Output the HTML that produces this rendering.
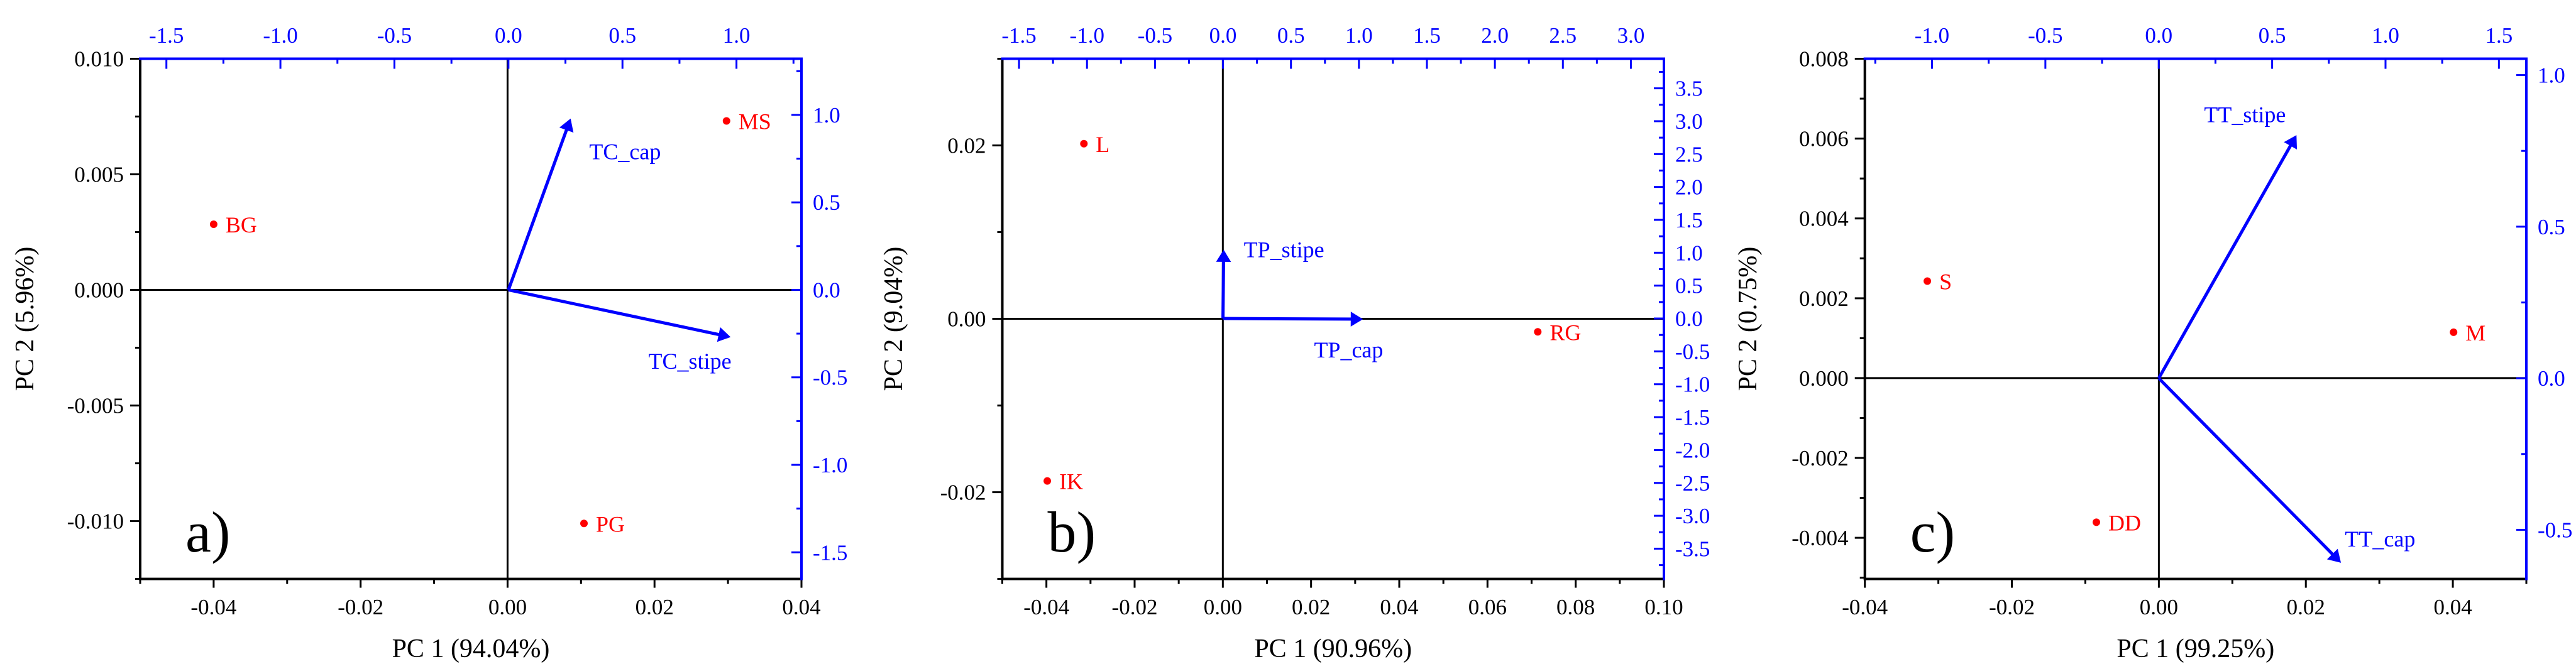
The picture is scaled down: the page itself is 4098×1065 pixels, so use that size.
<!DOCTYPE html>
<html><head><meta charset="utf-8"><style>
html,body{margin:0;padding:0;background:#fff;}
svg{display:block;}
text{font-family:"Liberation Serif","DejaVu Serif",serif;}
</style></head>
<body>
<svg id="chart" width="4098" height="1065" viewBox="0 0 4098 1065" xmlns="http://www.w3.org/2000/svg"></svg>
<script>
// ---- Panel a data ----
const aPointNames = ["BG","MS","PG"];
const aPointX = [-0.040, 0.0298, 0.0104];
const aPointY = [0.00284, 0.00731, -0.0101];
const aLoadNames = ["TC_cap","TC_stipe"];
const aLoadX = [0.269, 0.964];
const aLoadY = [0.966, -0.267];
const aBottomTicks = ["-0.04","-0.02","0.00","0.02","0.04"];
const aLeftTicks = ["-0.010","-0.005","0.000","0.005","0.010"];
const aTopTicks = ["-1.5","-1.0","-0.5","0.0","0.5","1.0"];
const aRightTicks = ["-1.5","-1.0","-0.5","0.0","0.5","1.0"];
// ---- Panel b data ----
const bPointNames = ["L","IK","RG"];
const bPointX = [-0.0315, -0.0398, 0.0714];
const bPointY = [0.0202, -0.0187, -0.0015];
const bLoadNames = ["TP_stipe","TP_cap"];
const bLoadX = [0.005, 1.012];
const bLoadY = [1.01, -0.01];
const bBottomTicks = ["-0.04","-0.02","0.00","0.02","0.04","0.06","0.08","0.10"];
const bLeftTicks = ["-0.02","0.00","0.02"];
const bTopTicks = ["-1.5","-1.0","-0.5","0.0","0.5","1.0","1.5","2.0","2.5","3.0"];
const bRightTicks = ["-3.5","-3.0","-2.5","-2.0","-1.5","-1.0","-0.5","0.0","0.5","1.0","1.5","2.0","2.5","3.0","3.5"];
// ---- Panel c data ----
const cPointNames = ["S","DD","M"];
const cPointX = [-0.0315, -0.0085, 0.0401];
const cPointY = [0.00243, -0.00361, 0.00115];
const cLoadNames = ["TT_stipe","TT_cap"];
const cLoadX = [0.602, 0.796];
const cLoadY = [0.795, -0.603];
const cBottomTicks = ["-0.04","-0.02","0.00","0.02","0.04"];
const cLeftTicks = ["-0.004","-0.002","0.000","0.002","0.004","0.006","0.008"];
const cTopTicks = ["-1.0","-0.5","0.0","0.5","1.0","1.5"];
const cRightTicks = ["-0.5","0.0","0.5","1.0"];

const NS="http://www.w3.org/2000/svg";
const svg=document.getElementById('chart');
function mk(tag,attrs,parent){const e=document.createElementNS(NS,tag);for(const k in attrs)e.setAttribute(k,attrs[k]);(parent||svg).appendChild(e);return e;}

const panels=[
 {id:'a',L:223,R:1275,T:93.5,B:921.6,xr:[-0.05,0.04],yr:[-0.0125,0.010],tr:[-1.615,1.285],rr:[-1.652,1.321],
  xStepMinor:0.01,yStepMinor:0.0025,tStepMinor:0.25,rStepMinor:0.25,
  names:aPointNames,px:aPointX,py:aPointY,ln:aLoadNames,lx:aLoadX,ly:aLoadY,
  bt:aBottomTicks,lt:aLeftTicks,tt:aTopTicks,rt:aRightTicks,
  lblOff:[[31,61],[-127,51]],xt:'PC 1 (94.04%)',yt:'PC 2 (5.96%)',letter:'a)',ytx:39},
 {id:'b',L:1594.5,R:2647,T:93.5,B:921.6,xr:[-0.05,0.10],yr:[-0.030,0.030],tr:[-1.623,3.243],rr:[-3.96,3.95],
  xStepMinor:0.01,yStepMinor:0.01,tStepMinor:0.25,rStepMinor:0.25,
  names:bPointNames,px:bPointX,py:bPointY,ln:bLoadNames,lx:bLoadX,ly:bLoadY,
  bt:bBottomTicks,lt:bLeftTicks,tt:bTopTicks,rt:bRightTicks,
  lblOff:[[32,8],[-74,61]],xt:'PC 1 (90.96%)',yt:'PC 2 (9.04%)',letter:'b)',ytx:1366+55},
 {id:'c',L:2966.7,R:4019,T:93.5,B:921.6,xr:[-0.04,0.05],yr:[-0.00503,0.008],tr:[-1.296,1.621],rr:[-0.662,1.054],
  xStepMinor:0.01,yStepMinor:0.001,tStepMinor:0.25,rStepMinor:0.25,
  names:cPointNames,px:cPointX,py:cPointY,ln:cLoadNames,lx:cLoadX,ly:cLoadY,
  bt:cBottomTicks,lt:cLeftTicks,tt:cTopTicks,rt:cRightTicks,
  lblOff:[[-145,-24],[9,-23]],xt:'PC 1 (99.25%)',yt:'PC 2 (0.75%)',letter:'c)',ytx:2732+48}
];

function ticksIn(r,step){const out=[];const s=Math.ceil(r[0]/step-1e-6);const e=Math.floor(r[1]/step+1e-6);for(let i=s;i<=e;i++)out.push(+(i*step).toFixed(6));return out;}

panels.forEach(p=>{
  const g=mk('g',{});
  
  
  const sx=v=>p.L+(v-p.xr[0])/(p.xr[1]-p.xr[0])*(p.R-p.L);
  const sy=v=>p.B-(v-p.yr[0])/(p.yr[1]-p.yr[0])*(p.B-p.T);
  const st=v=>p.L+(v-p.tr[0])/(p.tr[1]-p.tr[0])*(p.R-p.L);
  const sr=v=>p.B-(v-p.rr[0])/(p.rr[1]-p.rr[0])*(p.B-p.T);
  // zero lines
  const zh=mk('line',{x1:p.L,x2:p.R,y1:sy(0),y2:sy(0),stroke:'#000','stroke-width':3},g);
  
  
  const zv=mk('line',{x1:sx(0),x2:sx(0),y1:p.T,y2:p.B,stroke:'#000','stroke-width':3},g);
  
  
  // bottom axis
  const ba=mk('g',{},g);
  
  
  mk('line',{x1:p.L,x2:p.R,y1:p.B,y2:p.B,stroke:'#000','stroke-width':4},ba);
  const bMaj=p.bt.map(Number);
  ticksIn(p.xr,p.xStepMinor).forEach(v=>{const maj=bMaj.some(m=>Math.abs(m-v)<1e-9);mk('line',{x1:sx(v),x2:sx(v),y1:p.B,y2:p.B+(maj?14:8),stroke:'#000','stroke-width':3},ba);});
  p.bt.forEach(t=>{const e=mk('text',{x:sx(+t),y:978,'text-anchor':'middle','font-size':35,fill:'#000'},ba);e.textContent=t;
    
    });
  // left axis
  const la=mk('g',{},g);
  
  
  mk('line',{x1:p.L,x2:p.L,y1:p.T,y2:p.B+2,stroke:'#000','stroke-width':4},la);
  const lMaj=p.lt.map(Number);
  ticksIn(p.yr,p.yStepMinor).forEach(v=>{const maj=lMaj.some(m=>Math.abs(m-v)<1e-9);mk('line',{x1:p.L-(maj?16:8),x2:p.L,y1:sy(v),y2:sy(v),stroke:'#000','stroke-width':3},la);});
  p.lt.forEach(t=>{const e=mk('text',{x:p.L-26,y:sy(+t)+12,'text-anchor':'end','font-size':35,fill:'#000'},la);e.textContent=t;
    
    });
  // top axis
  const ta=mk('g',{},g);
  
  
  mk('line',{x1:p.L-2,x2:p.R+2,y1:p.T,y2:p.T,stroke:'#0000ff','stroke-width':4},ta);
  const tMaj=p.tt.map(Number);
  ticksIn(p.tr,p.tStepMinor).forEach(v=>{const maj=tMaj.some(m=>Math.abs(m-v)<1e-9);mk('line',{x1:st(v),x2:st(v),y1:p.T,y2:p.T+(maj?16:8),stroke:'#0000ff','stroke-width':3},ta);});
  p.tt.forEach(t=>{const e=mk('text',{x:st(+t),y:68,'text-anchor':'middle','font-size':35,fill:'#0000ff'},ta);e.textContent=t;
    
    });
  // right axis
  const ra=mk('g',{},g);
  
  
  mk('line',{x1:p.R,x2:p.R,y1:p.T-2,y2:p.B+2,stroke:'#0000ff','stroke-width':4},ra);
  const rMaj=p.rt.map(Number);
  ticksIn(p.rr,p.rStepMinor).forEach(v=>{const maj=rMaj.some(m=>Math.abs(m-v)<1e-9);mk('line',{x1:p.R-(maj?16:8),x2:p.R,y1:sr(v),y2:sr(v),stroke:'#0000ff','stroke-width':3},ra);});
  p.rt.forEach(t=>{const e=mk('text',{x:p.R+18,y:sr(+t)+12,'text-anchor':'start','font-size':35,fill:'#0000ff'},ra);e.textContent=t;
    
    });
  // loadings arrows
  p.ln.forEach((n,i)=>{
    const x0=st(0),y0=sr(0),x1=st(p.lx[i]),y1=sr(p.ly[i]);
    const ag=mk('g',{},g);
    
    
    mk('line',{x1:x0,y1:y0,x2:x1,y2:y1,stroke:'#0000ff','stroke-width':5},ag);
    const ang=Math.atan2(y1-y0,x1-x0),h=16,w=0.55;
    const pts=[[x1-h*Math.cos(ang-w),y1-h*Math.sin(ang-w)],[x1,y1],[x1-h*Math.cos(ang+w),y1-h*Math.sin(ang+w)]];
    mk('polygon',{points:pts.map(q=>q.join(',')).join(' '),fill:'#0000ff',stroke:'#0000ff','stroke-width':4,'stroke-linejoin':'miter'},ag);
    const t=mk('text',{x:x1+p.lblOff[i][0],y:y1+p.lblOff[i][1],'font-size':36,fill:'#0000ff'},ag);t.textContent=n;
  });
  // score points
  p.names.forEach((n,i)=>{
    const cx=sx(p.px[i]),cy=sy(p.py[i]);
    const pg=mk('g',{},g);
    
    
    mk('circle',{cx:cx,cy:cy,r:6,fill:'#ff0000'},pg);
    const t=mk('text',{x:cx+19,y:cy+13,'font-size':36,fill:'#ff0000'},pg);t.textContent=n;
  });
  // titles
  const xt=mk('text',{x:(p.L+p.R)/2,y:1046,'text-anchor':'middle','font-size':42,fill:'#000'},g);xt.textContent=p.xt;
  
  
  const yt=mk('text',{x:0,y:0,'text-anchor':'middle','font-size':42,fill:'#000',transform:`translate(${p.ytx+14},${(p.T+p.B)/2}) rotate(-90)`},g);yt.textContent=p.yt;
  
  
  const lt=mk('text',{x:p.L+72,y:878,'font-size':92,fill:'#000'},g);lt.textContent=p.letter;
  
  
});
</script>
</body></html>
